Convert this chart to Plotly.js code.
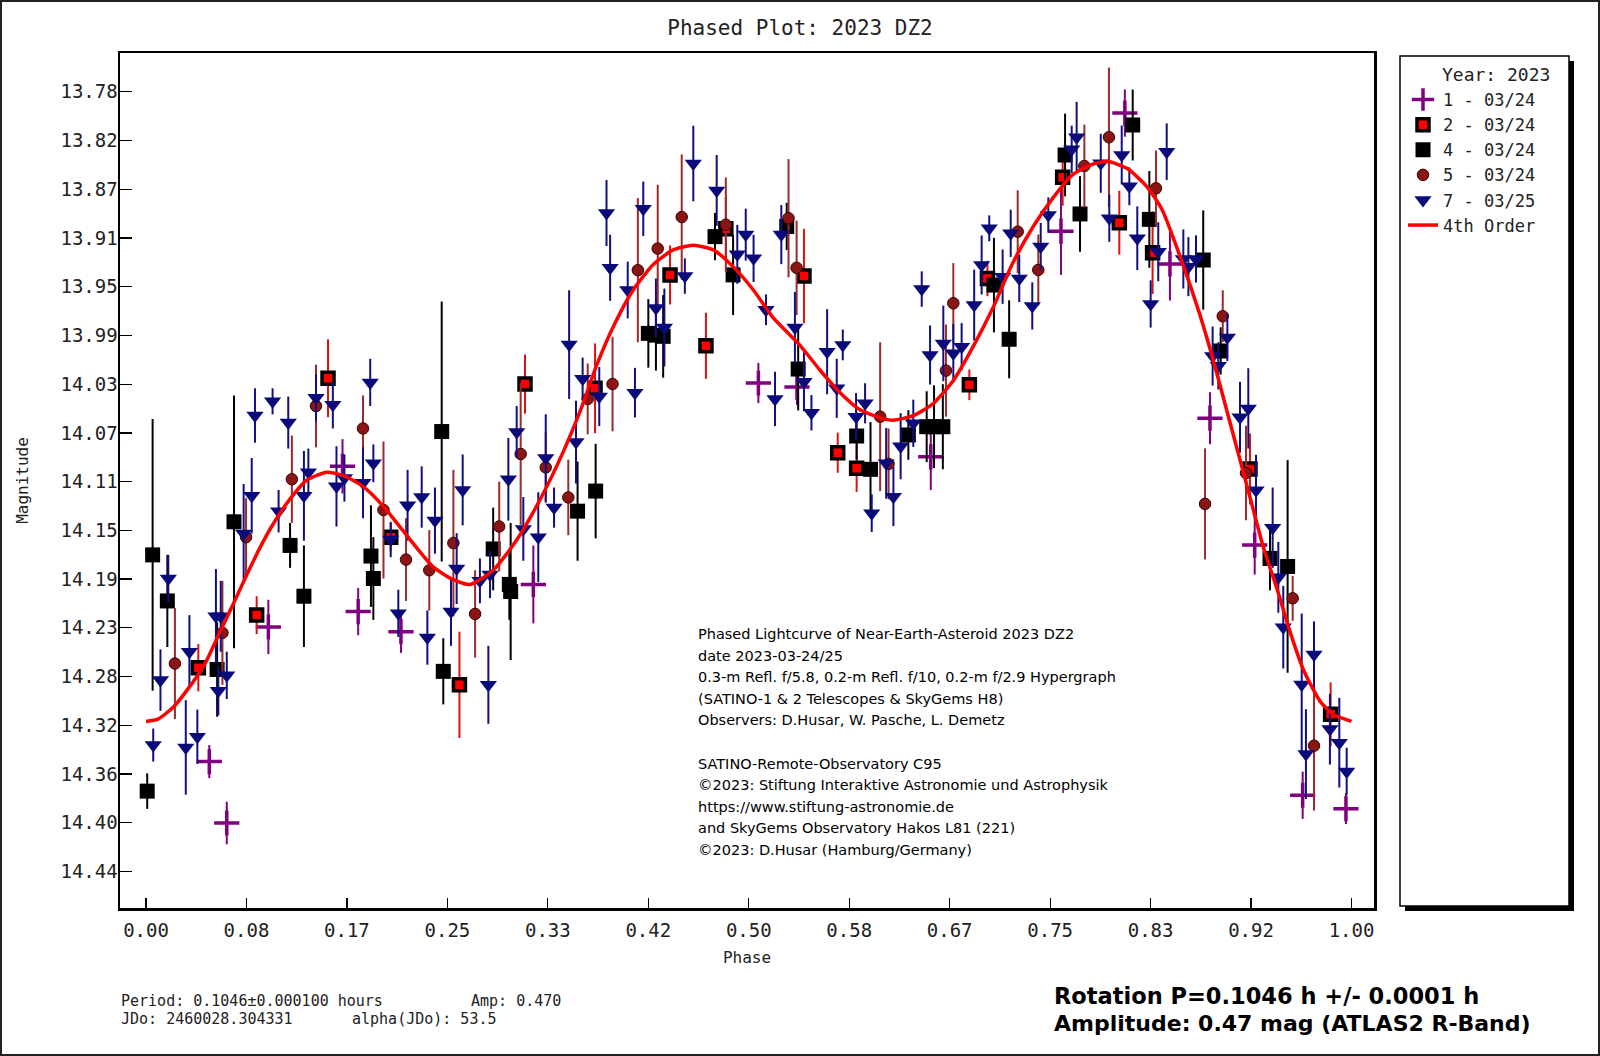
<!DOCTYPE html>
<html>
<head>
<meta charset="utf-8">
<script src="https://cdn.plot.ly/plotly-3.0.1.min.js"></script>
<style>html,body{margin:0;padding:0;background:#fff;}#chart{width:1600px;height:1056px;}</style>
</head>
<body>
<div id="chart"></div>
<script>
// ---------- data ----------
const xTickLabels = ['0.00','0.08','0.17','0.25','0.33','0.42','0.50','0.58','0.67','0.75','0.83','0.92','1.00'];
const yTickLabels = ['13.78','13.82','13.87','13.91','13.95','13.99','14.03','14.07','14.11','14.15','14.19','14.23','14.28','14.32','14.36','14.40','14.44'];

const s1Name = '1 - 03/24';
const s1Phase = [0.0525,0.067,0.1015,0.163,0.176,0.2115,0.3213,0.508,0.540,0.651,0.759,0.812,0.8494,0.8826,0.9197,0.9595,0.9954];
const s1Mag   = [14.347,14.399,14.233,14.097,14.220,14.237,14.197,14.0265,14.030,14.089,13.898,13.798,13.9257,14.0563,14.1637,14.3755,14.3869];
const s1Err   = [0.014,0.018,0.023,0.023,0.020,0.018,0.033,0.017,0.015,0.028,0.037,0.020,0.031,0.022,0.025,0.020,0.013];

const s2Name = '2 - 03/24';
const s2Phase = [0.0434,0.0918,0.151,0.203,0.26,0.3144,0.3725,0.4347,0.4645,0.481,0.5458,0.5738,0.5895,0.683,0.698,0.7604,0.8074,0.835,0.9158,0.9827];
const s2Mag   = [14.2675,14.223,14.0225,14.157,14.282,14.0274,14.031,13.935,13.995,13.896,13.936,14.0855,14.0987,14.028,13.938,13.8524,13.8908,13.9162,14.0993,14.3069];
const s2Err   = [0.020,0.016,0.033,0.012,0.045,0.025,0.038,0.025,0.028,0.027,0.040,0.017,0.020,0.013,0.015,0.024,0.027,0.035,0.030,0.027];

const s4Name = '4 - 03/24';
const s4Phase = [0.001,0.0055,0.0177,0.059,0.073,0.1195,0.131,0.1866,0.1886,0.2453,0.2466,0.288,0.3014,0.3025,0.358,0.373,0.4167,0.423,0.429,0.472,0.487,0.5315,0.541,0.5895,0.601,0.6324,0.6476,0.6537,0.661,0.7034,0.716,0.7624,0.7748,0.8185,0.8323,0.877,0.8915,0.9324,0.947];
const s4Mag   = [14.372,14.172,14.211,14.269,14.144,14.164,14.207,14.173,14.192,14.0676,14.2706,14.167,14.197,14.203,14.135,14.118,13.9845,13.986,13.987,13.9026,13.935,13.894,14.0147,14.0714,14.0996,14.0705,14.0635,14.0635,14.0635,13.9436,13.9895,13.8335,13.8834,13.8081,13.888,13.9224,13.9994,14.175,14.1818];
const s4Err   = [0.015,0.115,0.039,0.040,0.107,0.019,0.043,0.043,0.035,0.110,0.028,0.035,0.030,0.058,0.042,0.040,0.029,0.030,0.035,0.020,0.034,0.020,0.035,0.020,0.040,0.021,0.030,0.035,0.036,0.040,0.033,0.035,0.032,0.030,0.041,0.042,0.020,0.027,0.090];

const s5Name = '5 - 03/24';
const s5Phase = [0.024,0.0634,0.083,0.121,0.141,0.180,0.197,0.2157,0.235,0.255,0.273,0.293,0.3108,0.3316,0.3503,0.3664,0.387,0.408,0.4245,0.4444,0.481,0.533,0.5397,0.609,0.616,0.6636,0.6697,0.7231,0.7402,0.7784,0.7988,0.8378,0.8785,0.8932,0.9125,0.9512,0.9689];
const s5Mag   = [14.264,14.238,14.157,14.108,14.046,14.065,14.134,14.176,14.185,14.162,14.222,14.148,14.0866,14.098,14.1234,14.040,14.0274,13.931,13.9127,13.886,13.8925,13.887,13.929,14.055,14.095,14.016,13.959,13.8984,13.9308,13.8428,13.8185,13.8617,14.1288,13.970,14.1027,14.2088,14.3335];
const s5Err   = [0.047,0.044,0.033,0.037,0.035,0.028,0.058,0.035,0.034,0.062,0.037,0.038,0.060,0.030,0.032,0.030,0.040,0.061,0.054,0.053,0.040,0.050,0.040,0.063,0.030,0.039,0.034,0.035,0.030,0.035,0.059,0.032,0.047,0.022,0.040,0.019,0.055];

const s7Name = '7 - 03/25';
const s7Phase = [0.006,0.012,0.0185,0.033,0.036,0.0426,0.058,0.062,0.060,0.067,
  0.081,0.0877,0.0904,0.105,0.118,0.110,0.131,0.1347,0.141,0.155,
  0.158,0.1646,0.186,0.1886,0.180,0.203,0.2093,0.217,0.2287,0.2397,
  0.2334,0.2577,0.253,0.2627,0.284,0.277,0.2854,0.3006,0.3075,0.313,
  0.3254,0.3316,0.3385,0.3567,0.351,0.3622,0.376,0.4056,0.382,0.385,
  0.3996,0.4125,0.423,0.430,0.447,0.454,0.4734,0.4905,0.4975,0.504,
  0.5143,0.5218,0.527,0.5383,0.5458,0.552,0.565,0.578,0.573,0.589,
  0.5965,0.602,0.614,0.62,0.626,0.6365,0.6435,0.6504,0.6614,0.6697,
  0.6766,0.687,0.6932,0.6995,0.7106,0.7173,0.7244,0.7352,0.7422,0.7485,
  0.7679,0.772,0.792,0.7991,0.8094,0.8157,0.8223,0.8397,0.8334,0.8467,
  0.8605,0.8647,0.871,0.897,0.8848,0.8895,0.9075,0.9144,0.9208,0.9346,
  0.9393,0.9434,0.9587,0.9689,0.9622,0.9821,0.9899,0.996];
const s7Mag = [14.333,14.278,14.192,14.335,14.254,14.326,14.224,14.224,14.287,14.274,
  14.154,14.122,14.054,14.042,14.060,14.135,14.122,14.102,14.039,14.045,
  14.114,14.107,14.026,14.0945,14.111,14.159,14.2215,14.130,14.123,14.143,
  14.242,14.1836,14.220,14.117,14.282,14.194,14.1886,14.108,14.068,14.150,
  14.157,14.090,14.132,14.0765,13.994,14.023,14.038,14.0347,13.8826,13.929,
  13.9478,13.879,13.963,13.9795,13.936,13.8407,13.8635,13.9176,13.9009,13.921,
  13.9645,14.040,13.9009,13.9795,14.0254,14.0517,14.000,13.9943,14.031,14.055,
  14.0437,14.1367,14.0945,14.1227,14.080,14.0606,13.947,14.0028,13.993,14.0014,
  13.9958,13.9605,13.9266,13.8956,13.9365,13.8998,13.938,13.9613,13.911,13.8843,
  13.8287,13.8185,13.8405,13.887,13.8335,13.860,13.904,13.9154,13.9596,13.8307,
  13.9215,13.928,13.9215,13.988,14.0037,14.012,14.0555,14.048,14.1173,14.149,
  14.191,14.2332,14.2817,14.2563,14.3406,14.3195,14.331,14.3553];
const s7Err = [0.014,0.026,0.020,0.040,0.031,0.023,0.040,0.030,0.021,0.020,
  0.042,0.032,0.023,0.011,0.022,0.018,0.038,0.020,0.020,0.020,
  0.034,0.020,0.020,0.016,0.030,0.015,0.020,0.030,0.026,0.028,
  0.023,0.030,0.029,0.030,0.033,0.019,0.020,0.035,0.022,0.027,
  0.038,0.037,0.017,0.035,0.046,0.018,0.025,0.021,0.028,0.028,
  0.024,0.023,0.025,0.033,0.015,0.032,0.030,0.025,0.022,0.020,
  0.013,0.023,0.025,0.030,0.025,0.015,0.036,0.013,0.025,0.020,
  0.017,0.016,0.030,0.025,0.028,0.020,0.015,0.025,0.032,0.025,
  0.020,0.030,0.025,0.011,0.023,0.020,0.020,0.020,0.020,0.015,
  0.020,0.030,0.025,0.020,0.025,0.016,0.027,0.025,0.020,0.024,
  0.025,0.025,0.020,0.020,0.025,0.020,0.030,0.034,0.030,0.034,
  0.030,0.035,0.060,0.028,0.038,0.030,0.038,0.020];

const fitName = '4th Order';
const fitPhase = [0.00,0.01,0.023,0.038,0.049,0.061,0.074,0.084,0.095,0.106,
  0.12,0.133,0.15,0.164,0.18,0.197,0.212,0.238,0.255,0.269,
  0.288,0.308,0.327,0.346,0.361,0.374,0.388,0.404,0.421,0.437,
  0.454,0.471,0.487,0.504,0.52,0.542,0.559,0.576,0.592,0.609,
  0.62,0.637,0.653,0.67,0.686,0.703,0.719,0.736,0.753,0.769,
  0.786,0.798,0.814,0.83,0.843,0.858,0.874,0.885,0.894,0.905,
  0.916,0.927,0.938,0.949,0.96,0.974,0.985,1.0];
const fitMag = [14.313,14.311,14.3005,14.281,14.264,14.238,14.21,14.188,14.165,14.145,
  14.124,14.109,14.102,14.105,14.114,14.131,14.150,14.182,14.193,14.197,
  14.185,14.1586,14.125,14.085,14.048,14.011,13.978,13.948,13.926,13.914,
  13.910,13.914,13.928,13.948,13.971,13.994,14.0155,14.035,14.049,14.056,
  14.058,14.054,14.044,14.024,13.996,13.962,13.925,13.894,13.869,13.850,
  13.841,13.839,13.845,13.860,13.880,13.920,13.968,14.006,14.040,14.082,
  14.124,14.166,14.200,14.237,14.269,14.296,14.307,14.313];

const infoLines = [
  'Phased Lightcurve of Near-Earth-Asteroid 2023 DZ2',
  'date 2023-03-24/25',
  '0.3-m Refl. f/5.8, 0.2-m Refl. f/10, 0.2-m f/2.9 Hypergraph',
  '(SATINO-1 &amp; 2 Telescopes &amp; SkyGems H8)',
  'Observers: D.Husar, W. Pasche, L. Demetz',
  '',
  'SATINO-Remote-Observatory C95',
  '\u00a92023: Stiftung Interaktive Astronomie und Astrophysik',
  'https://www.stiftung-astronomie.de',
  'and SkyGems Observatory Hakos L81 (221)',
  '\u00a92023: D.Husar (Hamburg/Germany)'
];

// ---------- layout geometry ----------
const W = 1600, H = 1056;
const M = {l:120, r:226, t:53, b:148};
const PW = W - M.l - M.r, PH = H - M.t - M.b;
const px = x => (x - M.l) / PW;          // pixel -> paper x
const py = y => (H - M.b - y) / PH;      // pixel -> paper y
const mono = 'DejaVu Sans Mono, monospace';

function errTrace(name, xs, ys, es, marker, ecolor) {
  return {
    type:'scatter', mode:'markers', name:name, x:xs, y:ys,
    marker:marker,
    error_y:{type:'data', array:es, visible:true, color:ecolor, thickness:2, width:0}
  };
}

const traces = [
  errTrace(s1Name, s1Phase, s1Mag, s1Err,
    {symbol:'cross-thin-open', size:18, color:'#800080', line:{color:'#800080', width:3.5}}, '#800080'),
  errTrace(s2Name, s2Phase, s2Mag, s2Err,
    {symbol:'square', size:12, color:'#ff0000', line:{color:'#000000', width:3.5}}, '#e01010'),
  errTrace(s4Name, s4Phase, s4Mag, s4Err,
    {symbol:'square', size:15, color:'#000000', line:{width:0}}, '#000000'),
  errTrace(s5Name, s5Phase, s5Mag, s5Err,
    {symbol:'circle', size:11.5, color:'#8b1515', line:{color:'#3a0000', width:1}}, '#9b2a2a'),
  errTrace(s7Name, s7Phase, s7Mag, s7Err,
    {symbol:'triangle-down', size:15, color:'#0a0a7a', line:{width:0}}, '#101080'),
  {type:'scatter', mode:'lines', name:fitName, x:fitPhase, y:fitMag,
   line:{color:'#ff0000', width:3.5, shape:'spline', smoothing:0.6}}
];

const annotations = [];
infoLines.forEach((t, i) => {
  if (!t) return;
  annotations.push({xref:'paper', yref:'paper', x:px(696), y:py(634 + i*21.6),
    xanchor:'left', yanchor:'middle', showarrow:false, text:t,
    font:{family:'DejaVu Sans, sans-serif', size:14.5, color:'#000'}});
});
annotations.push(
  {xref:'paper', yref:'paper', x:px(1440), y:py(74.5), xanchor:'left', yanchor:'middle', showarrow:false,
   text:'Year: 2023', font:{family:mono, size:18, color:'#222'}},
  {xref:'paper', yref:'paper', x:px(119), y:py(1001), xanchor:'left', yanchor:'middle', showarrow:false,
   text:'Period: 0.1046\u00b10.000100 hours', font:{family:mono, size:15, color:'#222'}},
  {xref:'paper', yref:'paper', x:px(469), y:py(1001), xanchor:'left', yanchor:'middle', showarrow:false,
   text:'Amp: 0.470', font:{family:mono, size:15, color:'#222'}},
  {xref:'paper', yref:'paper', x:px(119), y:py(1019.5), xanchor:'left', yanchor:'middle', showarrow:false,
   text:'JDo: 2460028.304331', font:{family:mono, size:15, color:'#222'}},
  {xref:'paper', yref:'paper', x:px(350), y:py(1019.5), xanchor:'left', yanchor:'middle', showarrow:false,
   text:'alpha(JDo): 53.5', font:{family:mono, size:15, color:'#222'}},
  {xref:'paper', yref:'paper', x:px(1052), y:py(996), xanchor:'left', yanchor:'middle', showarrow:false,
   text:'<b>Rotation P=0.1046 h +/- 0.0001 h</b>', font:{family:'DejaVu Sans, sans-serif', size:22.5, color:'#000'}},
  {xref:'paper', yref:'paper', x:px(1052), y:py(1023.5), xanchor:'left', yanchor:'middle', showarrow:false,
   text:'<b>Amplitude: 0.47 mag (ATLAS2 R-Band)</b>', font:{family:'DejaVu Sans, sans-serif', size:22, color:'#000'}}
);

const shapes = [
  // outer image frame
  {type:'rect', xref:'paper', yref:'paper', x0:px(1), x1:px(1599), y0:py(1055), y1:py(1),
   line:{color:'#222', width:2}, fillcolor:'rgba(0,0,0,0)', layer:'above'},
  // legend box shadow
  {type:'rect', xref:'paper', yref:'paper', x0:px(1405), x1:px(1574), y0:py(911), y1:py(61),
   line:{width:0}, fillcolor:'#000', layer:'above'},
  // legend box
  {type:'rect', xref:'paper', yref:'paper', x0:px(1400), x1:px(1569), y0:py(906), y1:py(56),
   line:{color:'#000', width:1.5}, fillcolor:'#fff', layer:'above'}
];

const layout = {
  width:W, height:H,
  margin:M,
  paper_bgcolor:'#fff', plot_bgcolor:'#fff',
  showlegend:true,
  title:{text:'Phased Plot: 2023 DZ2', xref:'container', x:0.5, xanchor:'center',
         yref:'container', y:1 - 27.5/H, yanchor:'middle',
         font:{family:mono, size:21, color:'#222'}},
  xaxis:{
    range:[(120-146)/1205.5, (1374-146)/1205.5],
    tickmode:'array', tickvals:xTickLabels.map((_,k)=>k/12), ticktext:xTickLabels,
    ticks:'inside', ticklen:10, tickwidth:1.2, tickcolor:'#000',
    ticklabelstandoff:4,
    tickfont:{family:mono, size:19, color:'#222'},
    showline:true, linecolor:'#000', linewidth:2.5, mirror:true,
    showgrid:false, zeroline:false,
    title:{text:'Phase', font:{family:mono, size:16, color:'#222'}, standoff:12}
  },
  yaxis:{
    range:[13.78 + (908-91.8)/1181.3, 13.78 - (91.8-53)/1181.3],
    tickmode:'array', tickvals:yTickLabels.map((_,k)=>13.78 + k*0.04125), ticktext:yTickLabels,
    ticks:'inside', ticklen:12, tickwidth:1.2, tickcolor:'#000',
    ticklabelstandoff:-4,
    tickfont:{family:mono, size:19, color:'#222'},
    showline:true, linecolor:'#000', linewidth:2.5, mirror:true,
    showgrid:false, zeroline:false,
    title:{text:'Magnitude', font:{family:mono, size:16, color:'#222'}, standoff:28}
  },
  legend:{x:px(1403), y:py(82), xanchor:'left', yanchor:'top',
    bgcolor:'rgba(0,0,0,0)', borderwidth:0, itemwidth:30, tracegroupgap:0,
    font:{family:mono, size:17, color:'#222'}},
  annotations:annotations,
  shapes:shapes
};

Plotly.newPlot('chart', traces, layout, {staticPlot:true, displayModeBar:false});
</script>
</body>
</html>
